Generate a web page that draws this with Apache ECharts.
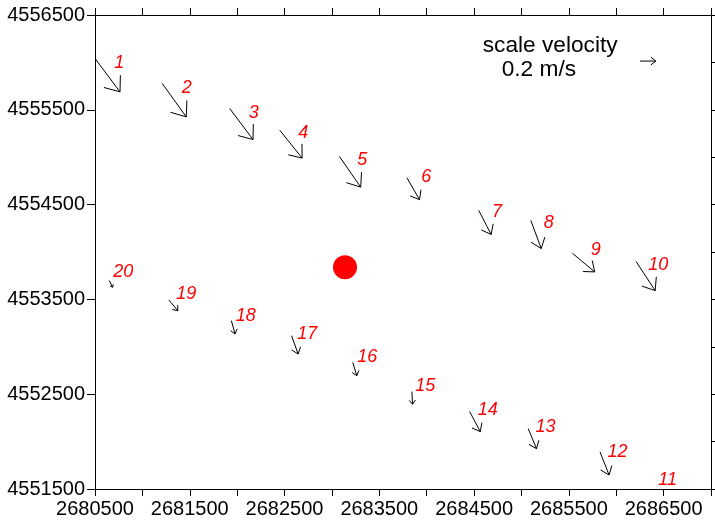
<!DOCTYPE html>
<html>
<head>
<meta charset="utf-8">
<script src="https://cdn.jsdelivr.net/npm/echarts@6/dist/echarts.min.js"></script>
<style>html,body{margin:0;padding:0;background:#fff;}#c{width:715px;height:521px;}</style>
</head>
<body>
<div id="c"></div>
<script>
// Station names
const stationNames = ['1','2','3','4','5','6','7','8','9','10','11','12','13','14','15','16','17','18','19','20'];
// Station coordinates (arrow tails)
const stationX = [2680500,2681209,2681921,2682450,2683078,2683791,2684549,2685099,2685537,2686210,2686387,2685829,2685071,2684453,2683844,2683220,2682574,2681939,2681279,2680651];
const stationY = [4556042,4555778,4555514,4555284,4555009,4554784,4554439,4554333,4553987,4553899,4551563,4551891,4552137,4552317,4552528,4552835,4553117,4553276,4553494,4553699];
// Velocity components (m/s): east, north
const velU = [0.318,0.306,0.297,0.284,0.272,0.161,0.158,0.132,0.284,0.242,0,0.115,0.106,0.136,0.008,0.051,0.084,0.046,0.115,0.042];
const velV = [-0.425,-0.425,-0.395,-0.353,-0.391,-0.280,-0.306,-0.357,-0.237,-0.369,0,-0.293,-0.255,-0.255,-0.161,-0.169,-0.233,-0.169,-0.136,-0.085];
// Label anchor coordinates
const labelX = [2680757,2681469,2682175,2682697,2683321,2683995,2684743,2685289,2685784,2686443,2686542,2686013,2685254,2684644,2683985,2683374,2682739,2682090,2681463,2680799];
const labelY = [4555989,4555725,4555461,4555260,4554967,4554791,4554421,4554309,4554023,4553865,4551592,4551891,4552155,4552335,4552589,4552888,4553135,4553329,4553558,4553786];
// Reference point (red dot)
const refPoint = [2683138, 4553839];
// Scale arrow
const scaleArrow = [2686252, 4556014, 0.2, 0];
// Map units per 1 m/s
const K = 830;
// Axis ranges
const xMin = 2680500, xMax = 2687000, yMin = 4551500, yMax = 4556500;

const FONT = '"Liberation Sans", Arial, sans-serif';

const arrowData = stationX.map((x, i) => [x, stationY[i], velU[i], velV[i]]);
arrowData.push(scaleArrow);
const labelData = labelX.map((x, i) => ({ value: [x, labelY[i]], name: stationNames[i] }));

function renderArrow(params, api) {
  const x = api.value(0), y = api.value(1), u = api.value(2), v = api.value(3);
  if (u === 0 && v === 0) return null;
  const p0 = api.coord([x, y]);
  const p1 = api.coord([x + u * K, y + v * K]);
  const dx = p1[0] - p0[0], dy = p1[1] - p0[1];
  const L = Math.hypot(dx, dy);
  const ang = Math.atan2(dy, dx);
  const h = L * 0.4, a = 38 * Math.PI / 180;
  const b1 = [p1[0] - h * Math.cos(ang - a), p1[1] - h * Math.sin(ang - a)];
  const b2 = [p1[0] - h * Math.cos(ang + a), p1[1] - h * Math.sin(ang + a)];
  return {
    type: 'group',
    children: [
      { type: 'line', shape: { x1: p0[0], y1: p0[1], x2: p1[0], y2: p1[1] }, style: { stroke: '#000', lineWidth: 1 } },
      { type: 'polyline', shape: { points: [b1, p1, b2] }, style: { stroke: '#000', fill: null, lineWidth: 1 } }
    ]
  };
}

const chart = echarts.init(document.getElementById('c'));
const lineStyle = { color: '#000', width: 1 };
chart.setOption({
  animation: false,
  backgroundColor: '#fff',
  grid: { left: 95, right: 4, top: 15, bottom: 32, containLabel: false, outerBoundsMode: 'none' },
  xAxis: [
    {
      type: 'value', position: 'bottom', min: xMin, max: xMax, interval: 500,
      axisLine: { show: true, onZero: false, lineStyle },
      axisTick: { show: true, inside: false, length: 7, lineStyle },
      splitLine: { show: false },
      axisLabel: {
        margin: 10, fontSize: 20, color: '#000', fontFamily: FONT,
        formatter: v => ((v - xMin) % 1000 === 0 && v < xMax) ? String(v) : ''
      }
    },
    {
      type: 'value', position: 'top', min: xMin, max: xMax, interval: 500,
      axisLine: { show: true, onZero: false, lineStyle },
      axisTick: { show: true, inside: false, length: 7, lineStyle },
      splitLine: { show: false },
      axisLabel: { show: false }
    }
  ],
  yAxis: [
    {
      type: 'value', position: 'left', min: yMin, max: yMax, interval: 1000,
      axisLine: { show: true, onZero: false, lineStyle },
      axisTick: { show: true, inside: false, length: 8, lineStyle },
      splitLine: { show: false },
      axisLabel: { margin: 10, fontSize: 20, color: '#000', fontFamily: FONT, formatter: v => String(v) }
    },
    {
      type: 'value', position: 'right', min: yMin, max: yMax, interval: 500,
      axisLine: { show: true, onZero: false, lineStyle },
      axisTick: { show: true, inside: false, length: 6, lineStyle },
      splitLine: { show: false },
      axisLabel: { show: false }
    }
  ],
  series: [
    {
      type: 'custom', xAxisIndex: 0, yAxisIndex: 0,
      renderItem: renderArrow,
      data: arrowData,
      clip: true,
      encode: { x: 0, y: 1 },
      silent: true
    },
    {
      type: 'scatter', xAxisIndex: 0, yAxisIndex: 0,
      symbolSize: 24,
      itemStyle: { color: '#ff0000', opacity: 1 },
      data: [refPoint],
      silent: true
    },
    {
      type: 'scatter', xAxisIndex: 0, yAxisIndex: 0,
      symbolSize: 0,
      data: labelData,
      itemStyle: { opacity: 1 },
      label: {
        show: true, position: 'inside', formatter: p => p.name,
        color: '#ff0000', fontSize: 18, fontStyle: 'italic', fontFamily: FONT,
        align: 'center', verticalAlign: 'middle'
      },
      silent: true
    }
  ],
  graphic: [
    { type: 'text', x: 482.7, y: 46, style: { text: 'scale velocity', fontSize: 22.7, fontFamily: FONT, fill: '#000', verticalAlign: 'middle', align: 'left' } },
    { type: 'text', x: 501.7, y: 70, style: { text: '0.2 m/s', fontSize: 22.7, fontFamily: FONT, fill: '#000', verticalAlign: 'middle', align: 'left' } }
  ]
});
</script>
</body>
</html>
